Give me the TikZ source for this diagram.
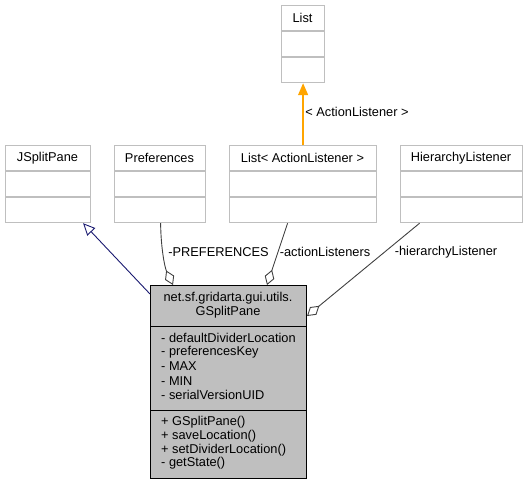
\documentclass[tikz,border=0pt]{standalone}
\usepackage{fontspec}
\setmainfont{Liberation Sans}
\usetikzlibrary{arrows.meta,calc}
\definecolor{boxline}{RGB}{191,191,191}
\definecolor{mainfill}{RGB}{191,191,191}
\definecolor{edgegray}{RGB}{64,64,64}
\definecolor{navyline}{RGB}{25,25,112}
\definecolor{orangeline}{RGB}{255,165,0}
\begin{document}
\begin{tikzpicture}[x=1pt,y=-1pt,
  every node/.style={font=\fontsize{12.8}{14.2}\selectfont, inner sep=0pt},
  clsbox/.style={draw=boxline, line width=1.2pt, fill=white, minimum height=77pt, anchor=north west},
  mainbox/.style={draw=black, line width=1pt, fill=mainfill, anchor=north west, minimum width=156pt, minimum height=193pt},
  divl/.style={draw=boxline, line width=1.2pt},
  assoc/.style={draw=edgegray, line width=0.9pt, -{Diamond[open, length=16pt, width=10pt, fill=white]}},
  inherit/.style={draw=navyline, line width=0.9pt, -{Triangle[open, length=12pt, width=11pt, fill=white]}},
  tmpl/.style={draw=orangeline, line width=1.4pt, -{Triangle[length=12pt, width=10pt]}},
  lbl/.style={anchor=center}
]
\useasboundingbox (0,0) rectangle (527,485);

% List
\node[clsbox, minimum width=43pt] (list) at (281,5) {};
\node (listt) at (302.5,18) {List};
\draw[divl] (281,31) -- (324,31);
\draw[divl] (281,57) -- (324,57);

% JSplitPane
\node[clsbox, minimum width=85pt] (jsp) at (5,145) {};
\node (jspt) at (47.5,158) {JSplitPane};
\draw[divl] (5,171) -- (90,171);
\draw[divl] (5,197) -- (90,197);

% Preferences
\node[clsbox, minimum width=91pt] (pref) at (114,145) {};
\node (preft) at (159.5,158) {Preferences};
\draw[divl] (114,171) -- (205,171);
\draw[divl] (114,197) -- (205,197);

% List< ActionListener >
\node[clsbox, minimum width=147pt] (lal) at (229,145) {};
\node (lalt) at (302.5,158) {List< ActionListener >};
\draw[divl] (229,171) -- (376,171);
\draw[divl] (229,197) -- (376,197);

% HierarchyListener
\node[clsbox, minimum width=122pt] (hl) at (400,145) {};
\node (hlt) at (461,158) {HierarchyListener};
\draw[divl] (400,171) -- (522,171);
\draw[divl] (400,197) -- (522,197);

% Main class
\node[mainbox] (main) at (150,285) {};
\node (maint1) at (228,298) {net.sf.gridarta.gui.utils.};
\node (maint2) at (228,312) {GSplitPane};
\draw[black, line width=1pt] (150,326) -- (306,326);
\draw[black, line width=1pt] (150,410) -- (306,410);
\node[anchor=west] (a1) at (161,338) {- defaultDividerLocation};
\node[anchor=west] (a2) at (161,352.3) {- preferencesKey};
\node[anchor=west] (a3) at (161,366.5) {- MAX};
\node[anchor=west] (a4) at (161,380.8) {- MIN};
\node[anchor=west] (a5) at (161,395) {- serialVersionUID};
\node[anchor=west] (m1) at (161,422.5) {+ GSplitPane()};
\node[anchor=west] (m2) at (161,436.5) {+ saveLocation()};
\node[anchor=west] (m3) at (161,450) {+ setDividerLocation()};
\node[anchor=west] (m4) at (161,463.5) {- getState()};

% coordinates on the main box
\coordinate (mInh) at ($(main.north west)+(0,9)$);
\coordinate (mPref) at ($(main.north west)+(23,0)$);
\coordinate (mAct) at ($(main.north west)+(117,0)$);
\coordinate (mHier) at ($(main.north east)+(0,31)$);
\coordinate (pS) at ($(pref.south)+(0.5,0)$);
\coordinate (aS) at ($(lal.south)+(-15.5,0)$);
\coordinate (hS) at ($(hl.south)+(-42,0)$);
\coordinate (jS) at ($(jsp.south)+(35,0)$);

% edges
\draw[inherit] (mInh) -- (jS);
\draw[assoc] (pS) .. controls (161,250) and (165,268) .. (mPref);
\node[lbl] (plbl) at (218.5,252) {-PREFERENCES};
\draw[assoc] (aS) -- (mAct);
\node[lbl] (albl) at (325,252) {-actionListeners};
\draw[assoc] (hS) -- (mHier);
\node[lbl] (hlbl) at (446,252) {-hierarchyListener};
\draw[tmpl] (lal.north) -- (list.south);
\node[lbl] (tlbl) at (357,112) {< ActionListener >};
\end{tikzpicture}
\end{document}
